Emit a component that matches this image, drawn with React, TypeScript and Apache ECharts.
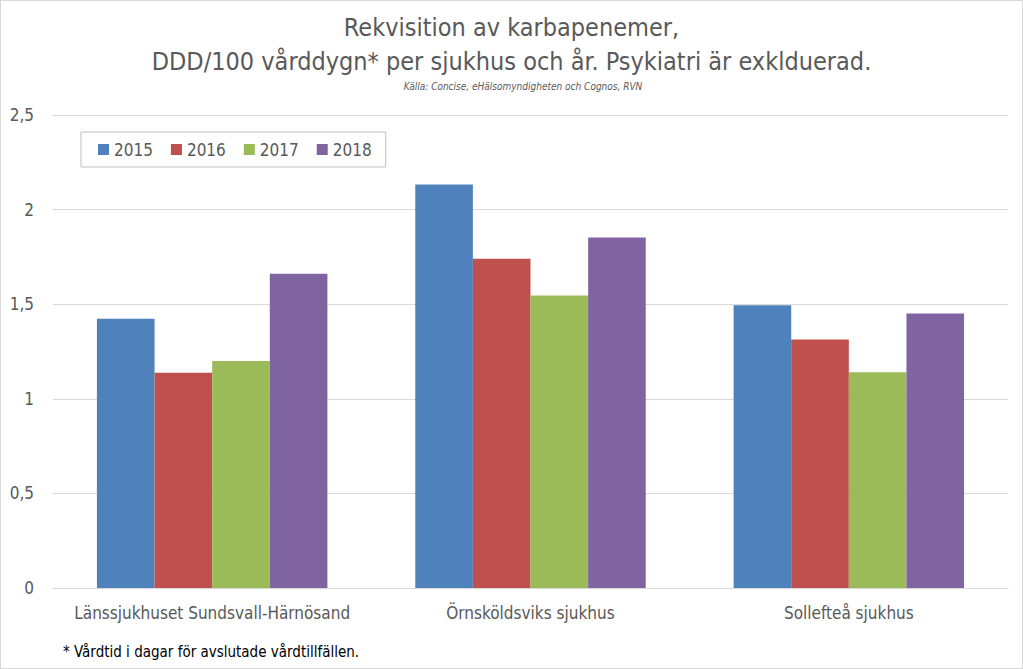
import React, { useEffect, useRef } from "react";
import * as echarts from "echarts";

const categories = ["Länssjukhuset Sundsvall-Härnösand", "Örnsköldsviks sjukhus", "Sollefteå sjukhus"];
const years = ["2015", "2016", "2017", "2018"];
const v2015 = [1.423, 2.133, 1.495];
const v2016 = [1.138, 1.74, 1.314];
const v2017 = [1.2, 1.546, 1.14];
const v2018 = [1.661, 1.853, 1.451];
const colors = ["#4F81BD", "#C0504D", "#9BBB59", "#8064A2"];
const seriesValues = [v2015, v2016, v2017, v2018];

const FONT = "'Liberation Sans Narrow', 'DejaVu Sans Condensed', 'Noto Sans', sans-serif";

export default function App() {
  const ref = useRef<HTMLDivElement>(null);
  useEffect(() => {
    document.body.style.margin = "0";
    const chart = echarts.init(ref.current!, null, { renderer: "svg" });
    chart.setOption({
      animation: false,
      textStyle: { fontFamily: FONT },
      title: [
        {
          text: "Rekvisition av karbapenemer,\nDDD/100 vårddygn* per sjukhus och år. Psykiatri är exklduerad.",
          left: "center",
          top: 4,
          textStyle: { fontFamily: FONT, fontSize: 25, fontWeight: "normal", color: "#595959", lineHeight: 34 },
        },
        {
          text: "Källa: Concise, eHälsomyndigheten och Cognos, RVN",
          left: 517,
          textAlign: "center",
          top: 75,
          textStyle: { fontFamily: FONT, fontSize: 10, fontStyle: "italic", fontWeight: "normal", color: "#595959" },
        },
        {
          text: "* Vårdtid i dagar för avslutade vårdtillfällen.",
          left: 57,
          top: 638,
          textStyle: { fontFamily: FONT, fontSize: 15, fontWeight: "normal", color: "#000000" },
        },
      ],
      legend: {
        data: years,
        left: 80,
        top: 131,
        width: 303,
        orient: "horizontal",
        borderColor: "#BFBFBF",
        borderWidth: 1,
        padding: [9, 14, 9, 17],
        itemWidth: 11,
        itemHeight: 11,
        itemGap: 18,
        icon: "rect",
        textStyle: { fontFamily: FONT, fontSize: 17, color: "#595959" },
      },
      grid: { left: 52, right: 14, top: 114, bottom: 80, containLabel: false },
      xAxis: {
        type: "category",
        data: categories,
        axisLine: { lineStyle: { color: "#D9D9D9", width: 1 } },
        axisTick: { show: false },
        axisLabel: { fontFamily: FONT, fontSize: 17, color: "#595959", margin: 16, interval: 0 },
      },
      yAxis: {
        type: "value",
        min: 0,
        max: 2.5,
        interval: 0.5,
        axisLine: { show: false },
        axisTick: { show: false },
        splitLine: { lineStyle: { color: "#D9D9D9", width: 1 } },
        axisLabel: {
          fontFamily: FONT,
          fontSize: 17,
          color: "#595959",
          margin: 19,
          formatter: (v: number) => String(v).replace(".", ","),
        },
      },
      series: years.map((y, i) => ({
        name: y,
        type: "bar",
        data: seriesValues[i],
        itemStyle: { color: colors[i] },
        barGap: "0%",
        barCategoryGap: "27.6%",
      })),
    });
    return () => chart.dispose();
  }, []);
  return (
    <div
      ref={ref}
      style={{ width: 1023, height: 669, border: "1px solid #D9D9D9", boxSizing: "border-box", background: "#fff" }}
    />
  );
}
